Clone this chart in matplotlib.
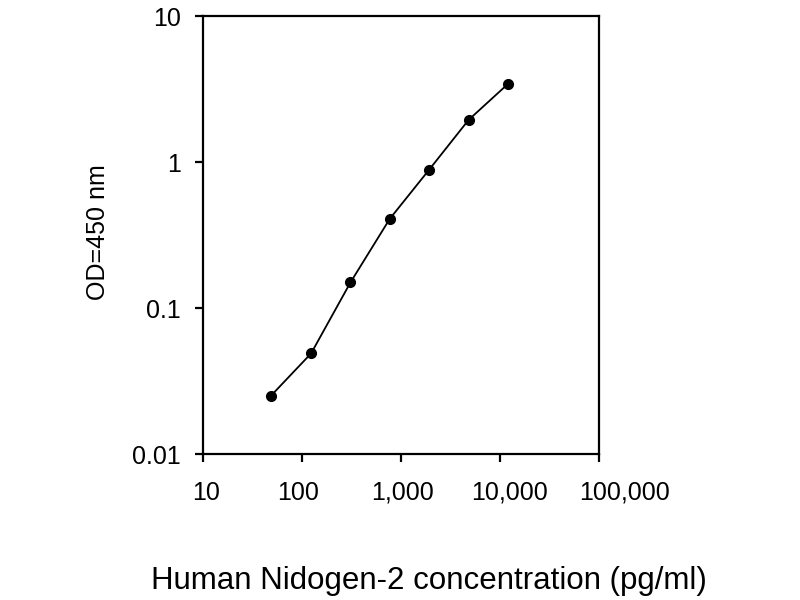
import matplotlib
matplotlib.use("Agg")
import matplotlib.pyplot as plt
from matplotlib.ticker import FixedLocator, FixedFormatter, NullLocator
from matplotlib.transforms import ScaledTranslation

plt.rcParams['font.family'] = ['Liberation Sans', 'DejaVu Sans']

# Data
concentration = [48, 123, 307, 768, 1920, 4800, 12000]   # pg/ml
od450 = [0.025, 0.049, 0.150, 0.41, 0.89, 1.95, 3.44]

x_ticks = [10, 100, 1000, 10000, 100000]
x_ticklabels = ["10", "100", "1,000", "10,000", "100,000"]
y_ticks = [0.01, 0.1, 1, 10]
y_ticklabels = ["0.01", "0.1", "1", "10"]

fig = plt.figure(figsize=(8, 6), dpi=100)
ax = fig.add_axes([0.254, 0.243, 0.495, 0.730])

ax.plot(concentration, od450, color='black', lw=1.3, marker='o',
        markersize=7, markerfacecolor='black', markeredgecolor='black')

ax.set_xscale('log')
ax.set_yscale('log')
ax.set_xlim(10, 100000)
ax.set_ylim(0.01, 10)

ax.xaxis.set_major_locator(FixedLocator(x_ticks))
ax.xaxis.set_major_formatter(FixedFormatter(x_ticklabels))
ax.xaxis.set_minor_locator(NullLocator())
ax.yaxis.set_major_locator(FixedLocator(y_ticks))
ax.yaxis.set_major_formatter(FixedFormatter(y_ticklabels))
ax.yaxis.set_minor_locator(NullLocator())

for s in ax.spines.values():
    s.set_linewidth(1.6)
ax.tick_params(axis='both', direction='out', length=6, width=1.6,
               labelsize=18, colors='black')
ax.tick_params(axis='x', pad=13)
ax.tick_params(axis='y', pad=10)

# small horizontal nudges of x tick labels (points) as in the reference
label_shift_pt = [2, -3, 1, 7, 18]
for tick, dx in zip(ax.xaxis.get_major_ticks(), label_shift_pt):
    lbl = tick.label1
    lbl.set_transform(lbl.get_transform() +
                      ScaledTranslation(dx / 72, 0, fig.dpi_scale_trans))

ax.set_xlabel("Human Nidogen-2 concentration (pg/ml)", fontsize=22.5)
ax.xaxis.set_label_coords(0.571, -0.255)
ax.set_ylabel("OD=450 nm", fontsize=18)
ax.yaxis.set_label_coords(-0.265, 0.507)
ax.yaxis.label.set_verticalalignment('center')

fig.savefig("out.png", dpi=100, facecolor='white')
